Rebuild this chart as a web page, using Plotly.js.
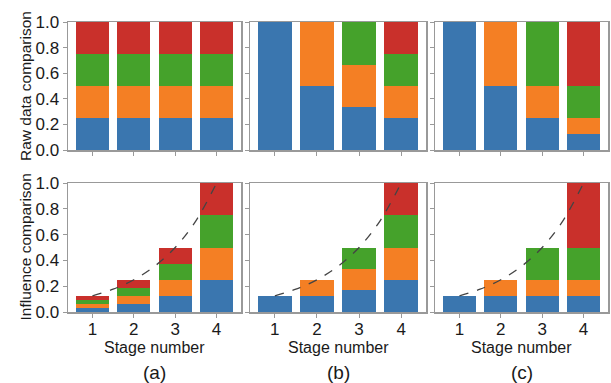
<!DOCTYPE html>
<html>
<head>
<meta charset="utf-8">
<script src="https://cdn.plot.ly/plotly-3.0.1.min.js"></script>
<style>html,body{margin:0;padding:0;background:#fff}#chart{width:611px;height:383px}</style>
</head>
<body>
<div id="chart"></div>
<script>
// ---- data ----
const stages = [1, 2, 3, 4];
const seriesNames = ['Part 1', 'Part 2', 'Part 3', 'Part 4'];
const seriesColors = ['#3a76af', '#f47f24', '#45a22b', '#c9302b'];
const panelLabels = ['(a)', '(b)', '(c)'];

// Raw data comparison (top row)
const rawA_blue = [0.25, 0.25, 0.25, 0.25];
const rawA_orange = [0.25, 0.25, 0.25, 0.25];
const rawA_green = [0.25, 0.25, 0.25, 0.25];
const rawA_red = [0.25, 0.25, 0.25, 0.25];

const rawB_blue = [1.0, 0.5, 0.333, 0.25];
const rawB_orange = [0, 0.5, 0.333, 0.25];
const rawB_green = [0, 0, 0.334, 0.25];
const rawB_red = [0, 0, 0, 0.25];

const rawC_blue = [1.0, 0.5, 0.25, 0.125];
const rawC_orange = [0, 0.5, 0.25, 0.125];
const rawC_green = [0, 0, 0.5, 0.25];
const rawC_red = [0, 0, 0, 0.5];

// Influence comparison (bottom row)
const infA_blue = [0.03125, 0.0625, 0.125, 0.25];
const infA_orange = [0.03125, 0.0625, 0.125, 0.25];
const infA_green = [0.03125, 0.0625, 0.125, 0.25];
const infA_red = [0.03125, 0.0625, 0.125, 0.25];

const infB_blue = [0.125, 0.125, 0.167, 0.25];
const infB_orange = [0, 0.125, 0.167, 0.25];
const infB_green = [0, 0, 0.166, 0.25];
const infB_red = [0, 0, 0, 0.25];

const infC_blue = [0.125, 0.125, 0.125, 0.125];
const infC_orange = [0, 0.125, 0.125, 0.125];
const infC_green = [0, 0, 0.25, 0.25];
const infC_red = [0, 0, 0, 0.5];

// dashed trend curve
const curveX = [1, 1.5, 2, 2.5, 3, 3.5, 4];
const curveY = [0.125, 0.177, 0.25, 0.354, 0.5, 0.707, 1.0];

const yTicks = [0, 0.2, 0.4, 0.6, 0.8, 1.0];
const rowTitles = ['Raw data comparison', 'Influence comparison'];
const xTitle = 'Stage number';

// ---- layout geometry (pixels) ----
const W = 611, H = 383;
const colPx = [[68, 241], [250, 426], [435, 608]];
const rowPx = [[22, 150], [183, 312]];

const panels = [
  [[rawA_blue, rawA_orange, rawA_green, rawA_red],
   [rawB_blue, rawB_orange, rawB_green, rawB_red],
   [rawC_blue, rawC_orange, rawC_green, rawC_red]],
  [[infA_blue, infA_orange, infA_green, infA_red],
   [infB_blue, infB_orange, infB_green, infB_red],
   [infC_blue, infC_orange, infC_green, infC_red]]
];

const traces = [];
const layout = {
  width: W, height: H,
  margin: {l: 0, r: 0, t: 0, b: 0},
  paper_bgcolor: '#fff', plot_bgcolor: '#fff',
  barmode: 'stack', bargap: 0.2,
  showlegend: false,
  font: {family: 'Liberation Sans, Arial, sans-serif', size: 16, color: '#1a1a1a'},
  annotations: []
};

let idx = 0;
for (let r = 0; r < 2; r++) {
  for (let c = 0; c < 3; c++) {
    idx++;
    const xa = idx === 1 ? 'x' : 'x' + idx;
    const ya = idx === 1 ? 'y' : 'y' + idx;
    const xk = idx === 1 ? 'xaxis' : 'xaxis' + idx;
    const yk = idx === 1 ? 'yaxis' : 'yaxis' + idx;
    panels[r][c].forEach((vals, s) => {
      traces.push({
        type: 'bar', x: stages, y: vals, name: seriesNames[s],
        xaxis: xa, yaxis: ya,
        marker: {color: seriesColors[s], line: {width: 0}},
        hoverinfo: 'skip'
      });
    });
    if (r === 1) {
      traces.push({
        type: 'scatter', mode: 'lines', x: curveX, y: curveY,
        xaxis: xa, yaxis: ya,
        line: {color: '#444', width: 1.3, dash: 'dash', shape: 'spline'},
        hoverinfo: 'skip'
      });
    }
    layout[xk] = {
      domain: [colPx[c][0] / W, colPx[c][1] / W],
      anchor: ya,
      range: [0.41, 4.59],
      tickvals: stages,
      ticktext: stages.map(String),
      showticklabels: r === 1,
      ticks: 'outside', ticklen: 4, tickwidth: 1, tickcolor: '#999',
      ticklabelstandoff: -3,
      showline: true, linecolor: '#999', linewidth: 1.5, mirror: true,
      showgrid: false, zeroline: false,
      tickfont: {size: 17, color: '#1a1a1a'}
    };
    layout[yk] = {
      domain: [1 - rowPx[r][1] / H, 1 - rowPx[r][0] / H],
      anchor: xa,
      range: [0, 1],
      tickvals: yTicks,
      tickformat: '.1f',
      showticklabels: c === 0,
      ticks: 'outside', ticklen: 4, tickwidth: 1, tickcolor: '#999',
      showline: true, linecolor: '#999', linewidth: 1.5, mirror: true,
      showgrid: false, zeroline: false,
      tickfont: {size: 17, color: '#1a1a1a'}
    };
  }
}

// row titles
rowTitles.forEach((t, r) => {
  layout.annotations.push({
    text: t, xref: 'paper', yref: 'paper',
    x: 25 / W, y: 1 - ((rowPx[r][0] + rowPx[r][1]) / 2) / H,
    xanchor: 'center', yanchor: 'middle', textangle: -90, showarrow: false,
    font: {size: 15.5, color: '#1a1a1a'}
  });
});
// x titles and panel labels
colPx.forEach((cp, c) => {
  const cx = (cp[0] + cp[1]) / 2 / W;
  layout.annotations.push({
    text: xTitle, xref: 'paper', yref: 'paper', x: cx, y: 1 - 347 / H,
    xanchor: 'center', yanchor: 'middle', showarrow: false,
    font: {size: 16, color: '#1a1a1a'}
  });
  layout.annotations.push({
    text: panelLabels[c], xref: 'paper', yref: 'paper', x: cx, y: 1 - 372 / H,
    xanchor: 'center', yanchor: 'middle', showarrow: false,
    font: {size: 19, color: '#1a1a1a'}
  });
});

Plotly.newPlot('chart', traces, layout, {staticPlot: true, displayModeBar: false});
</script>
</body>
</html>
